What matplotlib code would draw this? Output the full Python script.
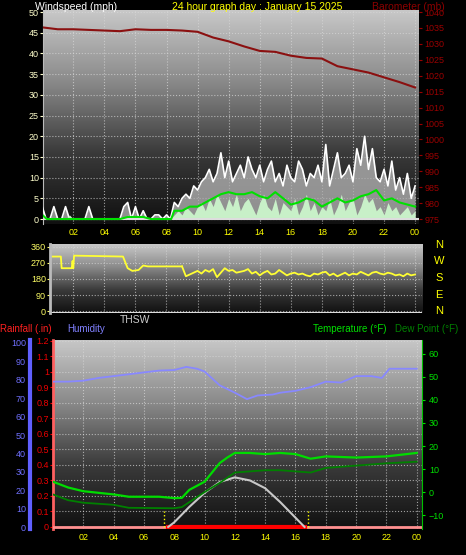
import numpy as np
import matplotlib
matplotlib.use("Agg")
import matplotlib.pyplot as plt
from matplotlib.colors import LinearSegmentedColormap

plt.rcParams['font.family'] = ['Liberation Sans', 'DejaVu Sans']

W, H = 466, 555

# ---- data ----
hour_labels = ['02', '04', '06', '08', '10', '12', '14', '16', '18', '20', '22', '00']
hour_ticks = list(range(2, 25, 2))

# wind, 15 minute steps 0..24
wind_t = np.arange(0, 24.01, 0.25)
gust = [3,0,0,3,0,0,3,0,0,0, 0,0,3,0,0,0,0,0,0,0, 0,3,4,0,3,0,2,0,0,1, 1,0,1,0,
        4,3,5,6,5,8,7,9,10,12, 9,11,16,10,14,9,11,13,10,15, 12,10,13,9,12,14,9,11,8,13,
        10,9,14,12,8,11,10,13,9,18, 8,12,16,10,11,13,9,17,13,20, 12,17,10,9,12,8,14,7,10,6,
        11,5,8]
speed = [1,0,0,0,0,0,0,1,0,0, 0,0,0,0,0,0,0,0,0,0, 0,0,1,0,0,0,0,0,0,0, 0,0,0,0,
         1,2,1,3,2,1,3,4,2,5, 3,6,4,2,5,3,6,2,4,5, 3,1,4,6,3,2,5,1,4,3,
         2,5,1,3,6,2,4,1,3,2, 5,1,3,6,2,4,5,1,3,6, 4,5,2,3,1,4,2,3,1,2,
         3,1,2]
avg_t = [0, 0.3, 1, 5, 5.5, 6.5, 7, 8.3, 8.5, 9, 9.5, 10, 10.5, 11, 11.5, 12, 12.5, 13, 13.5, 14,
         14.5, 15, 15.5, 16, 16.5, 17, 17.5, 18, 18.5, 19, 19.5, 20, 20.5, 21, 21.5, 22, 22.5, 23, 23.5, 24]
avg = [1, 0, 0, 0, 0.5, 0.5, 0, 0, 2, 2, 3, 3, 4, 5, 6, 6.5, 6, 6, 6.5, 5.5,
       5, 6.5, 5, 3.5, 4, 5, 4.5, 3, 4, 5, 4, 4.5, 5.5, 6, 7, 4.5, 5, 4, 3.5, 3]

baro_t = list(range(0, 25))
baro = [1035.2, 1034.6, 1034.6, 1034.4, 1034.2, 1034.0, 1034.6, 1034.4, 1034.4, 1034.2, 1033.8,
        1032.0, 1030.8, 1029.2, 1027.8, 1027.5, 1026.3, 1025.6, 1025.4, 1023.0, 1022.0, 1021.0,
        1019.5, 1018.0, 1016.3]

dir_t = [0, 1.2, 1.25, 1.9, 1.95, 2.0, 2.05, 2.1, 5.2, 5.5, 5.8, 6.2, 6.5, 6.8, 7, 9]
dir_v = [305, 305, 240, 240, 280, 240, 310, 310, 305, 240, 225, 230, 255, 250, 250, 250]
dir_t2 = np.arange(9.25, 24.01, 0.25)
dir_v2 = [195,205,215,225,210,230,220,235,190,215, 240,225,230,215,220,225,235,210,220,200,
          215,225,205,210,230,215,200,210,215,205, 210,200,195,210,205,215,220,200,210,195,
          205,215,200,210,205,220,210,200,215,220, 210,205,215,210,200,205,195,210,200,205]

hum_t = [0, 1, 2, 3, 4, 5, 6, 7, 8, 8.8, 9.5, 10, 11, 11.5, 12, 12.8, 13.5, 14.5, 15, 16, 17, 18,
         19, 20, 21, 21.7, 22.2, 23, 24]
hum = [79, 79, 79.5, 81, 82, 83, 84, 85, 85.3, 87, 86, 84.5, 77, 75, 73, 69.5, 71.5, 72, 73, 74,
       76, 79, 78.5, 82, 82, 81, 86, 86, 86]

temp_t = [0, 1, 2, 4, 5, 7, 8, 8.5, 9, 10, 11, 11.5, 12, 13, 14, 15, 16, 17, 18, 20, 22, 24]
temp = [4.5, 2, 0.4, -1, -2, -2, -2.6, -2.5, 1, 4.5, 12.6, 15, 17, 17, 16.5, 17, 16.5, 14.5, 15.5, 15, 15.5, 17]
dew_t = [0, 1, 2, 4, 5, 8, 8.5, 10, 11, 12, 13, 14, 15, 16, 17, 18, 20, 22, 24]
dew = [-1, -3.5, -4.6, -5.5, -6.8, -7, -6.5, 0, 4, 8.5, 9, 9.5, 9.5, 9, 8.5, 10.5, 11.5, 12.5, 13.2]

solar_t = [7.6, 8, 9, 10, 11, 12, 13, 14, 15, 16, 16.6]
solar = [0, 0.03, 0.13, 0.22, 0.29, 0.32, 0.30, 0.25, 0.16, 0.06, 0]
sunrise, sunset = 7.35, 16.8

# ---- helpers ----
def rect(l, t, r, b):
    return [l / W, 1 - b / H, (r - l) / W, (b - t) / H]

grad = LinearSegmentedColormap.from_list('g', ['#101010', '#3a3a3a', '#8a8a8a', '#c8c8c8'])

def background(ax):
    ax.imshow(np.linspace(0, 1, 256).reshape(-1, 1), cmap=grad, origin='lower', aspect='auto',
              extent=[0, 1, 0, 1], transform=ax.transAxes, zorder=0)
    ax.set_facecolor('#202020')

def style(ax, xlim, ylim, yt, ycol):
    ax.set_xlim(*xlim)
    ax.set_ylim(*ylim)
    ax.set_yticks(yt)
    ax.set_xticks(hour_ticks)
    ax.grid(True, color='#d8d8d8', linestyle=':', linewidth=0.8, alpha=0.7)
    ax.tick_params(axis='y', colors=ycol, labelsize=6.5, length=2, pad=1)
    ax.tick_params(axis='x', colors='#ffff00', labelsize=6.5, length=0, pad=3)
    for s in ax.spines.values():
        s.set_visible(False)

fig = plt.figure(figsize=(W / 100, H / 100), dpi=100, facecolor='black')

# ---- top: wind + barometer ----
ax1 = fig.add_axes(rect(43, 10, 419, 224))
background(ax1)
style(ax1, (0.05, 24.25), (-1.2, 50.5), range(0, 51, 5), '#ffffcc')
ax1.set_xticklabels(hour_labels)
ax1.spines['left'].set_visible(True)
ax1.spines['left'].set_color('#bbbbbb')
ax1.fill_between(wind_t, 0, gust, color='#b0b0b0', zorder=2, lw=0, alpha=0.8)
ax1.plot(wind_t, gust, color='white', lw=1.2, zorder=3)
ax1.fill_between(wind_t, 0, speed, color='#c8f0c8', zorder=4, lw=0)
ax1.plot(avg_t, avg, color='#00e000', lw=1.5, zorder=5)
ax1.axhline(0, color='#dddddd', lw=1.5, zorder=4)
ax1b = ax1.twinx()
ax1b.set_ylim(975 - 1.2 * 1.3, 975 + 50.5 * 1.3)
ax1b.set_yticks(range(975, 1041, 5))
ax1b.tick_params(axis='y', colors='#990000', labelsize=6.5, length=2, pad=2)
for s in ax1b.spines.values():
    s.set_visible(False)
ax1b.plot(baro_t, baro, color='#8b1010', lw=1.5)

fig.text(35 / W, 1 - 10 / H, 'Windspeed (mph)', color='white', fontsize=7.5)
fig.text(172 / W, 1 - 10 / H, '24 hour graph day : January 15 2025', color='#ffff00', fontsize=7.5)
fig.text(372 / W, 1 - 10 / H, 'Barometer (mb)', color='#8b0000', fontsize=7.5)

# ---- middle: wind direction ----
ax2 = fig.add_axes(rect(50, 244, 422, 313))
background(ax2)
style(ax2, (0.5, 24.45), (-10, 375), range(0, 361, 90), '#ffff66')
ax2.set_xticklabels([])
ax2.spines['left'].set_visible(True)
ax2.spines['left'].set_color('#bbbbbb')
ax2.spines['left'].set_linewidth(2)
ax2.axhline(-8, color='#dddddd', lw=1.5)
ax2.plot(dir_t, dir_v, color='#ffff33', lw=1.3)
ax2.plot(np.concatenate([[9], dir_t2]), np.concatenate([[250], dir_v2]), color='#ffff33', lw=1.3)
for lab, y in zip('NWSEN', [245, 261, 278, 295, 311]):
    fig.text(439 / W, 1 - y / H, lab, color='#ffff00', fontsize=8, ha='center', va='center')
fig.text(120 / W, 1 - 323 / H, 'THSW', color='#cccccc', fontsize=7.5)
fig.text(0, 1 - 332 / H, 'Rainfall (.in)', color='#ff2020', fontsize=7)
fig.text(67 / W, 1 - 332 / H, 'Humidity', color='#8080ff', fontsize=7)
fig.text(313 / W, 1 - 332 / H, 'Temperature (\u00b0F)', color='#00e000', fontsize=7)
fig.text(395 / W, 1 - 332 / H, 'Dew Point (\u00b0F)', color='#008000', fontsize=7)

# ---- bottom: rain, humidity, temperature ----
ax3 = fig.add_axes(rect(53, 340, 422, 529))
background(ax3)
style(ax3, (0, 24.35), (-0.013, 1.206), np.round(np.arange(0, 1.21, 0.1), 1), '#ee0000')
ax3.set_yticklabels(['0'] + [f'{v:g}' for v in np.round(np.arange(0.1, 1.21, 0.1), 1)])
ax3.set_xticklabels(hour_labels)
ax3.spines['left'].set_visible(True)
ax3.spines['left'].set_color('#ff6060')
ax3.spines['left'].set_linestyle((0, (2, 1)))
ax3.spines['left'].set_linewidth(2)
ax3.axhline(0, color='#ff9090', lw=2, zorder=3)
ax3.plot([7.6, 16.6], [0, 0], color='#ff0000', lw=3, zorder=4)
ax3.plot(solar_t, solar, color='#c8c8c8', lw=1.5, zorder=4)
ax3.plot([sunrise, sunrise], [0, 0.1], color='#ffff00', lw=1, ls=':', zorder=4)
ax3.plot([sunset, sunset], [0, 0.1], color='#ffff00', lw=1, ls=':', zorder=4)

ax3h = ax3.twinx()
ax3h.yaxis.set_ticks_position('left')
ax3h.spines['left'].set_position(('outward', 16.5))
for s in ax3h.spines.values():
    s.set_visible(False)
ax3h.spines['left'].set_visible(True)
ax3h.spines['left'].set_color('#6060ff')
ax3h.spines['left'].set_linewidth(3)
ax3h.set_ylim(-1, 101.6)
ax3h.set_yticks(range(0, 101, 10))
ax3h.tick_params(axis='y', colors='#7070ff', labelsize=6.5, length=0, pad=3)
ax3h.plot(hum_t, hum, color='#8888ff', lw=1.3)

ax3t = ax3.twinx()
for s in ax3t.spines.values():
    s.set_visible(False)
ax3t.spines['right'].set_visible(True)
ax3t.spines['right'].set_color('#00c000')
ax3t.spines['right'].set_linestyle((0, (2, 1)))
ax3t.set_ylim(-16, 66)
ax3t.set_yticks(range(-10, 61, 10))
ax3t.tick_params(axis='y', colors='#00e000', labelsize=6.5, length=2, pad=3)
ax3t.plot(dew_t, dew, color='#008000', lw=1.3)
ax3t.plot(temp_t, temp, color='#00dd00', lw=1.6)

fig.savefig('out.png', dpi=100, facecolor='black')
